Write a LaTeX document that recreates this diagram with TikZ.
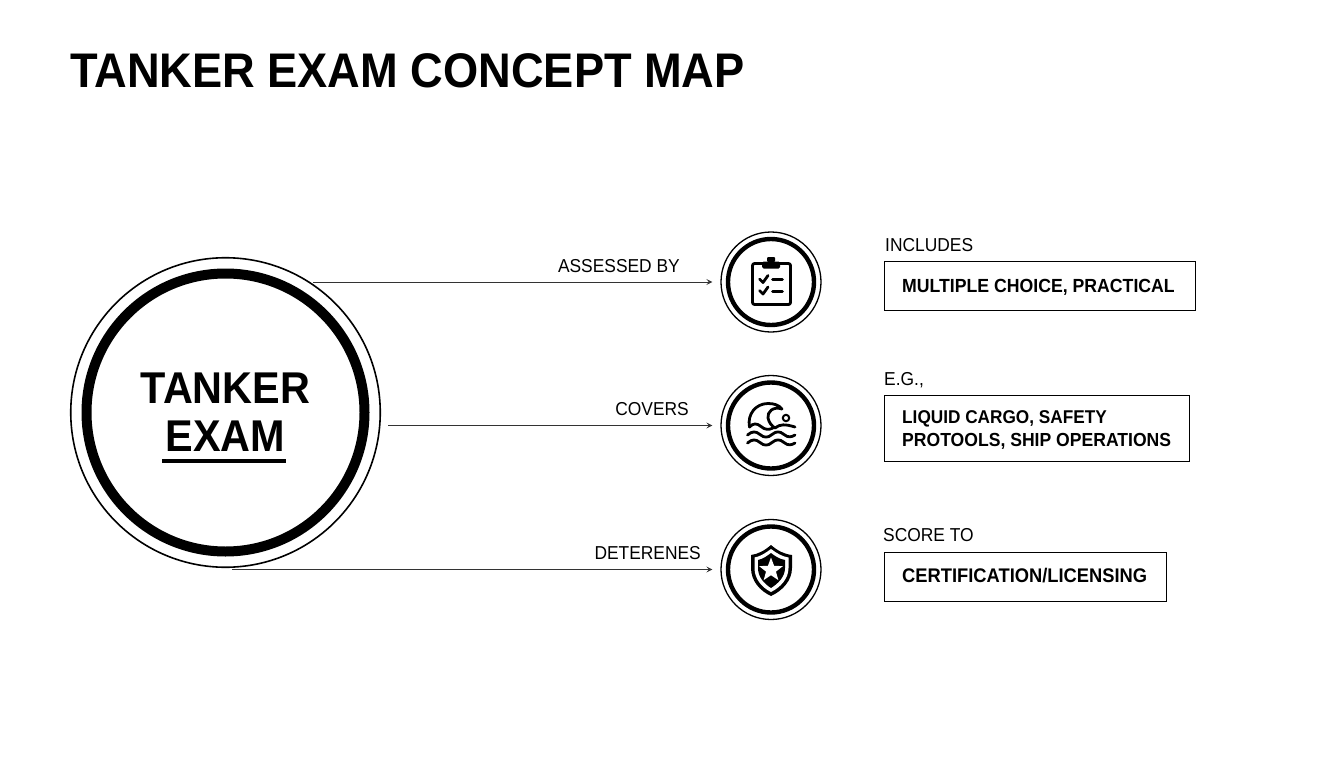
\documentclass[tikz,border=0pt]{standalone}
\usepackage{fontspec}
\usetikzlibrary{shapes.geometric,arrows.meta}
\setmainfont{Liberation Sans}[FakeStretch=0.93]
\newcommand{\sz}[1]{\fontsize{#1}{#1}\selectfont}
\tikzset{
  x=1pt,y=-1pt,
  bigring/.style={circle,draw=black,line width=1.6pt,minimum size=309.5pt,inner sep=0pt,align=center,font=\bfseries\fontsize{44.5}{48}\selectfont},
  smallring/.style={circle,draw=black,line width=1.3pt,minimum size=100pt,inner sep=0pt},
  link/.style={draw=black!80,line width=0.9pt,-{Stealth[length=6pt,width=6pt,inset=2.5pt]},shorten >=8pt},
  linklabel/.style={anchor=base east,inner sep=0pt,font=\sz{18.7}},
  headlabel/.style={anchor=base west,inner sep=0pt,font=\sz{18.7}},
  infobox/.style={draw=black,line width=1.4pt,anchor=north west,inner sep=0pt},
  infotext/.style={anchor=base west,inner sep=0pt,font=\bfseries\sz{19}},
  iconline/.style={draw=black,line width=2.8pt,line cap=round,line join=round},
}
\begin{document}
\begin{tikzpicture}
\useasboundingbox[fill=white] (0,0) rectangle (1344,768);
\node[anchor=base west,inner sep=0pt,font=\bfseries\fontsize{48.6}{52}\selectfont] (title) at (70,87.5) {TANKER EXAM CONCEPT MAP};

% central circle
\node[bigring] (exam) at (225.5,412.5) {TANKER\\EXAM};
\draw[line width=10pt] (exam.center) ++(139,0) arc[start angle=0,end angle=360,radius=139];
\draw[line width=3.6pt] (162,461) -- (286,461);

% small circles
\node[smallring] (c1) at (771,282) {};
\node[smallring] (c2) at (771,425.5) {};
\node[smallring] (c3) at (771,569.5) {};
\foreach \n in {c1,c2,c3}{\draw[line width=4.4pt] (\n.center) ++(43,0) arc[start angle=0,end angle=360,radius=43];}

% connectors
\coordinate (s1) at (313,282);
\coordinate (s2) at (388,425.5);
\coordinate (s3) at (232,569.5);
\draw[link] (s1) -- (c1.west);
\draw[link] (s2) -- (c2.west);
\draw[link] (s3) -- (c3.west);
\node[linklabel] (l1) at (680,272) {ASSESSED BY};
\node[linklabel] (l2) at (689,415) {COVERS};
\node[linklabel] (l3) at (701,559) {DETERENES};

% clipboard icon
\draw[iconline,rounded corners=2pt] (752.5,263.5) rectangle (790.5,304.5);
\fill[rounded corners=1.5pt] (762,268.5) rectangle (780,261.5);
\fill[rounded corners=1pt] (767,262) rectangle (775,257);
\draw[iconline] (759.5,279) -- (763,282.5) -- (768,275.5);
\draw[iconline] (772.5,279.5) -- (782.5,279.5);
\draw[iconline] (759.5,290.5) -- (763,294) -- (768,287);
\draw[iconline] (772.5,291.5) -- (782.5,291.5);

% wave icon
\draw[iconline] (749.5,427) .. controls (747,414) and (756,403.5) .. (768,403.5) .. controls (774,403.5) and (779,405) .. (782,409)
  .. controls (773,406) and (767,412) .. (768,418) .. controls (769,423) and (772,426) .. (775,428);
\draw[iconline] (749.5,427) .. controls (753,423) and (757,423) .. (761,426.5) .. controls (765,430) and (769,430) .. (773,428) ;
\draw[iconline] (775,428) .. controls (780,424) and (785,424) .. (795,427);
\draw[iconline] (747.5,435) .. controls (752,431) and (756,431) .. (760,434.5) .. controls (764,438) and (768,438) .. (772,434.5) .. controls (776,431) and (780,431) .. (784,434.5) .. controls (788,438) and (792,437) .. (795,435);
\draw[iconline] (747.5,443) .. controls (752,439) and (756,439) .. (760,442.5) .. controls (764,446) and (768,446) .. (772,442.5) .. controls (776,439) and (780,439) .. (784,442.5) .. controls (788,446) and (792,445) .. (795,443);
\draw[line width=2pt] (786,418) circle[radius=3.2];

% shield icon
\fill[black] (771,545) .. controls (764,551) and (758,554) .. (751,555) -- (751,568) .. controls (751,581) and (760,591) .. (771,596) .. controls (782,591) and (792,581) .. (792,568) -- (792,555) .. controls (784,554) and (778,551) .. (771,545) -- cycle;
\fill[white] (771,549) .. controls (765,553.5) and (760,556.5) .. (754.5,557.5) -- (754.5,568) .. controls (754.5,579) and (762,587.5) .. (771,592) .. controls (780,587.5) and (788.5,579) .. (788.5,568) -- (788.5,557.5) .. controls (782,556.5) and (777,553.5) .. (771,549) -- cycle;
\fill[black] (771,553) .. controls (767,556) and (763,559) .. (758,560) -- (758,568) .. controls (758,577) and (764,583.5) .. (771,588) .. controls (778,583.5) and (785,577) .. (785,568) -- (785,560) .. controls (779,559) and (775,556) .. (771,553) -- cycle;
\node[star,star points=5,star point ratio=2.4,fill=white,draw=none,minimum size=25pt,inner sep=0pt] (st) at (771,570) {};

% right column
\node[headlabel] (h1) at (885,251) {INCLUDES};
\node[headlabel] (h2) at (884,385) {E.G.,};
\node[headlabel] (h3) at (883,541) {SCORE TO};
\node[infobox,minimum width=310.5pt,minimum height=48.5pt] (b1) at (884,261) {};
\node[infobox,minimum width=304.5pt,minimum height=65.5pt] (b2) at (884,395) {};
\node[infobox,minimum width=281.5pt,minimum height=48.5pt] (b3) at (884,552) {};
\node[infotext,font=\bfseries\sz{19}] (t1) at (902,292) {MULTIPLE CHOICE, PRACTICAL};
\node[infotext,font=\bfseries\sz{18.5}] (t2a) at (902,423.5) {LIQUID CARGO, SAFETY};
\node[infotext,font=\bfseries\sz{18.9}] (t2b) at (902,446) {PROTOOLS, SHIP OPERATIONS};
\node[infotext,font=\bfseries\sz{19.7}] (t3) at (902,582.5) {CERTIFICATION/LICENSING};
\end{tikzpicture}
\end{document}
